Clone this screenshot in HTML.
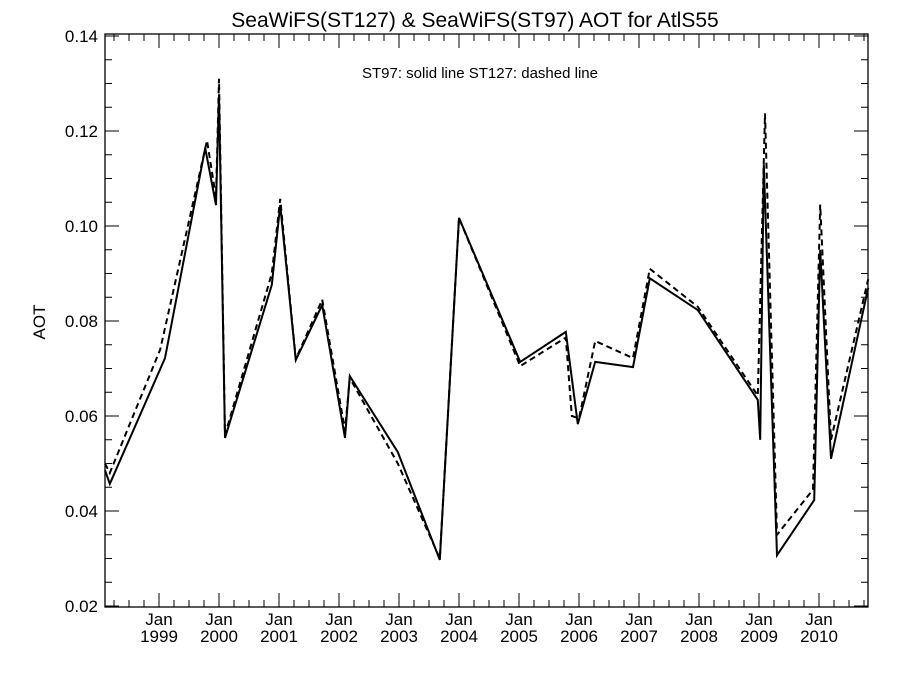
<!DOCTYPE html>
<html><head><meta charset="utf-8"><style>
body{margin:0;background:#fff}
svg text{font-family:"Liberation Sans",Arial,sans-serif;fill:#000}
</style></head><body>
<svg id="chart" width="900" height="675">
<text x="475" y="27" font-size="21" text-anchor="middle">SeaWiFS(ST127) &amp; SeaWiFS(ST97)  AOT for AtlS55</text>
<text x="480" y="78" font-size="15" text-anchor="middle">ST97: solid line   ST127: dashed line</text>
<text transform="translate(45,322) rotate(-90)" font-size="17" text-anchor="middle">AOT</text>
<g id="axes"></g><g id="series"></g>
</svg>
<script>
const yTicks=[0.02,0.04,0.06,0.08,0.10,0.12,0.14];
const yTickLabels=["0.02","0.04","0.06","0.08","0.10","0.12","0.14"];
const xYears=[1999,2000,2001,2002,2003,2004,2005,2006,2007,2008,2009,2010];
const st97T=[1998.1,1998.18,1999.1,1999.77,1999.95,2000.0,2000.1,2000.88,2001.02,2001.28,2001.72,2002.1,2002.18,2002.98,2003.68,2004.0,2005.02,2005.78,2005.98,2006.27,2006.9,2007.18,2007.98,2008.98,2009.02,2009.08,2009.3,2009.92,2010.02,2010.2,2010.82];
const st97V=[0.0486,0.0457,0.0722,0.1164,0.1044,0.1276,0.0554,0.0876,0.1044,0.0718,0.0834,0.0554,0.0684,0.0524,0.0297,0.1017,0.0714,0.0777,0.0583,0.0714,0.0703,0.089,0.0823,0.0634,0.055,0.113,0.0307,0.0423,0.095,0.051,0.087];
const st127T=[1998.1,1998.18,1999.02,1999.8,1999.95,2000.0,2000.1,2000.88,2001.02,2001.28,2001.72,2002.1,2002.18,2002.98,2003.68,2004.0,2005.02,2005.78,2005.88,2006.0,2006.27,2006.9,2007.18,2007.98,2008.98,2009.1,2009.3,2009.9,2010.02,2010.2,2010.82];
const st127V=[0.050,0.048,0.074,0.118,0.106,0.131,0.056,0.090,0.1057,0.072,0.0845,0.057,0.068,0.050,0.030,0.1017,0.0705,0.0765,0.060,0.0595,0.0758,0.0722,0.091,0.083,0.0643,0.1237,0.035,0.0445,0.1045,0.055,0.0888];
const L=105,R=868,T=34,B=607,t0=1998.1,t1=2010.82;
const x=t=>159+(t-1999)*60;
const y=v=>36+(0.14-v)*4750;
const NS="http://www.w3.org/2000/svg";
const ax=document.getElementById('axes'),se=document.getElementById('series');
function mk(tag,at,par){const e=document.createElementNS(NS,tag);for(const k in at)e.setAttribute(k,at[k]);par.appendChild(e);return e;}
const fr=mk('rect',{x:L,y:T,width:R-L,height:B-T,fill:'none',stroke:'#000','stroke-width':1.3},ax);


yTicks.forEach((v,i)=>{
 const yy=y(v);
 const l=mk('path',{d:`M${L},${yy}h14M${R},${yy}h-14`,stroke:'#000','stroke-width':1},ax);
 
 
 const tx=mk('text',{x:98,y:yy+6,'font-size':17,'text-anchor':'end'},ax);tx.textContent=yTickLabels[i];
 
 
 if(i<yTicks.length-1)for(let k=1;k<4;k++){const ym=y(v+0.005*k);
  const m=mk('path',{d:`M${L},${ym}h7M${R},${ym}h-7`,stroke:'#000','stroke-width':1},ax);
  
  }
});
for(let t=1998.25;t<=t1;t+=0.25){const xx=x(t);const major=Math.abs(t-Math.round(t))<0.01;const h=major?14:7;
 const m=mk('path',{d:`M${xx},${B}v-${h}M${xx},${T}v${h}`,stroke:'#000','stroke-width':1},ax);
 
 }
xYears.forEach(yr=>{const xx=x(yr);
 const a=mk('text',{x:xx,y:625,'font-size':17,'text-anchor':'middle'},ax);a.textContent='Jan';
 
 
 const b=mk('text',{x:xx,y:642,'font-size':17,'text-anchor':'middle'},ax);b.textContent=String(yr);
 
 });
function line(T,V,dash,name){const d=T.map((t,i)=>(i?'L':'M')+x(t).toFixed(1)+','+y(V[i]).toFixed(1)).join('');
 const p=mk('path',{d,fill:'none',stroke:'#000','stroke-width':2,'stroke-dasharray':dash},se);
 
 }
line(st127T,st127V,'6,4','st127-dashed-line');
line(st97T,st97V,'none','st97-solid-line');
</script>
</body></html>
